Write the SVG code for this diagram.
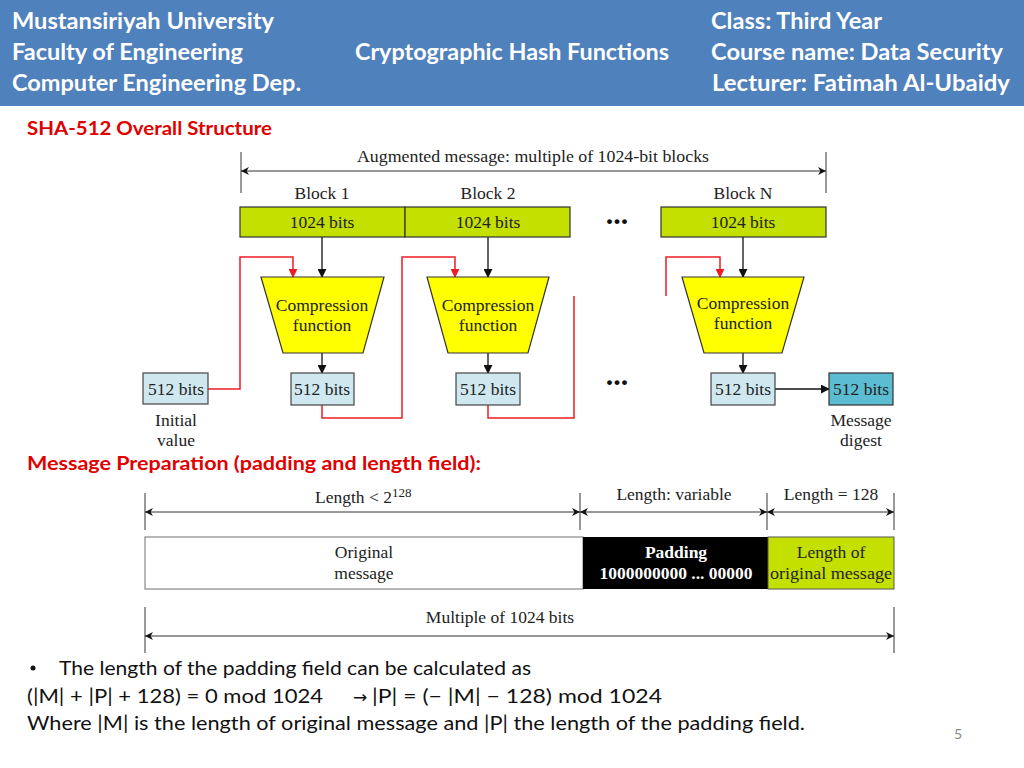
<svg xmlns="http://www.w3.org/2000/svg" width="1024" height="768" viewBox="0 0 1024 768">
<defs>
<style>
.hd{font-family:Lato,"Open Sans",sans-serif;font-weight:bold;font-size:22px;fill:#ffffff}
.rt{font-family:Lato,"Open Sans",sans-serif;font-weight:bold;font-size:19px;fill:#e00000}
.sf{font-family:"Liberation Serif",serif;font-size:17.5px;fill:#222}
.bt{font-family:Lato,"Open Sans",sans-serif;font-size:20px;fill:#111}
.blk{fill:#c4e000;stroke:#333;stroke-width:1.2}
.trap{fill:#ffff00;stroke:#333;stroke-width:1.2}
.bx{fill:#cfe8f0;stroke:#444;stroke-width:1.2}
.dg{fill:#5bbcd2;stroke:#333;stroke-width:1.2}
.k{stroke:#111;stroke-width:1.3;fill:none}
.r{stroke:#ee1c24;stroke-width:1.5;fill:none}
.d{stroke:#333;stroke-width:1;fill:none}
.dots{font-family:"Liberation Serif",serif;font-size:30px;font-weight:bold;fill:#111}
</style>
<marker id="ak" viewBox="0 0 10 10" refX="9" refY="5" markerWidth="9" markerHeight="9" markerUnits="userSpaceOnUse" orient="auto"><path d="M0,0 L10,5 L0,10 z" fill="#111"/></marker>
<marker id="ar" viewBox="0 0 10 10" refX="9" refY="5" markerWidth="9" markerHeight="9" markerUnits="userSpaceOnUse" orient="auto"><path d="M0,0 L10,5 L0,10 z" fill="#ee1c24"/></marker>
<marker id="ad" viewBox="0 0 10 10" refX="10" refY="5" markerWidth="9" markerHeight="8" markerUnits="userSpaceOnUse" orient="auto-start-reverse"><path d="M0,0 L10,5 L0,10 L3,5 z" fill="#111"/></marker>
</defs>
<rect width="1024" height="768" fill="#ffffff"/>
<g id="header">
<rect x="0" y="0" width="1024" height="106" fill="#4f81bd"/>
<text class="hd" x="12" y="29" textLength="262" lengthAdjust="spacingAndGlyphs">Mustansiriyah University</text>
<text class="hd" x="12" y="60" textLength="231" lengthAdjust="spacingAndGlyphs">Faculty of Engineering</text>
<text class="hd" x="12" y="91" textLength="289" lengthAdjust="spacingAndGlyphs">Computer Engineering Dep.</text>
<text class="hd" x="355" y="60" textLength="314" lengthAdjust="spacingAndGlyphs">Cryptographic Hash Functions</text>
<text class="hd" x="711" y="29" textLength="171" lengthAdjust="spacingAndGlyphs">Class: Third Year</text>
<text class="hd" x="711" y="60" textLength="292" lengthAdjust="spacingAndGlyphs">Course name: Data Security</text>
<text class="hd" x="712" y="91" textLength="298" lengthAdjust="spacingAndGlyphs">Lecturer: Fatimah Al-Ubaidy</text>
</g>
<text class="rt" x="27" y="135" textLength="245" lengthAdjust="spacingAndGlyphs">SHA-512 Overall Structure</text>

<g id="connectors">
<line class="d" x1="241" y1="152" x2="241" y2="193"/>
<line class="d" x1="826" y1="152" x2="826" y2="193"/>
<line class="d" x1="241" y1="171" x2="826" y2="171" marker-start="url(#ad)" marker-end="url(#ad)"/>
<line class="k" x1="322" y1="237" x2="322" y2="277" marker-end="url(#ak)"/>
<line class="k" x1="488" y1="237" x2="488" y2="277" marker-end="url(#ak)"/>
<line class="k" x1="743" y1="237" x2="743" y2="277" marker-end="url(#ak)"/>
<line class="k" x1="322" y1="353" x2="322" y2="373" marker-end="url(#ak)"/>
<line class="k" x1="488" y1="353" x2="488" y2="373" marker-end="url(#ak)"/>
<line class="k" x1="743" y1="353" x2="743" y2="373" marker-end="url(#ak)"/>
<line class="k" x1="775" y1="389" x2="829" y2="389" marker-end="url(#ak)"/>
<polyline class="r" points="208,389 240,389 240,257 293,257 293,277" marker-end="url(#ar)"/>
<polyline class="r" points="322,405 322,418 402,418 402,257 455,257 455,277" marker-end="url(#ar)"/>
<polyline class="r" points="488,405 488,418 574,418 574,296"/>
<polyline class="r" points="666,296 666,257 720,257 720,277" marker-end="url(#ar)"/>
<line class="d" x1="145" y1="493" x2="145" y2="530"/>
<line class="d" x1="580" y1="493" x2="580" y2="530"/>
<line class="d" x1="767" y1="493" x2="767" y2="530"/>
<line class="d" x1="894" y1="493" x2="894" y2="530"/>
<line class="d" x1="145" y1="512" x2="580" y2="512" marker-start="url(#ad)" marker-end="url(#ad)"/>
<line class="d" x1="580" y1="512" x2="767" y2="512" marker-start="url(#ad)" marker-end="url(#ad)"/>
<line class="d" x1="767" y1="512" x2="894" y2="512" marker-start="url(#ad)" marker-end="url(#ad)"/>
<line class="d" x1="145" y1="607" x2="145" y2="653"/>
<line class="d" x1="894" y1="607" x2="894" y2="653"/>
<line class="d" x1="145" y1="636" x2="894" y2="636" marker-start="url(#ad)" marker-end="url(#ad)"/>
</g>

<text class="sf" x="533" y="162" text-anchor="middle" textLength="352" lengthAdjust="spacingAndGlyphs">Augmented message: multiple of 1024-bit blocks</text>

<g id="block1">
<text class="sf" x="322" y="199" text-anchor="middle">Block 1</text>
<rect class="blk" x="240" y="207" width="165" height="30"/>
<text class="sf" x="322" y="228" text-anchor="middle">1024 bits</text>
</g>
<g id="block2">
<text class="sf" x="488" y="199" text-anchor="middle">Block 2</text>
<rect class="blk" x="405" y="207" width="165" height="30"/>
<text class="sf" x="488" y="228" text-anchor="middle">1024 bits</text>
</g>
<g id="blockN">
<text class="sf" x="743" y="199" text-anchor="middle">Block N</text>
<rect class="blk" x="661" y="207" width="165" height="30"/>
<text class="sf" x="743" y="228" text-anchor="middle">1024 bits</text>
</g>
<g id="dots">
<text class="dots" x="617" y="224" text-anchor="middle">...</text>
<text class="dots" x="617" y="385" text-anchor="middle">...</text>
</g>

<g id="comp1">
<polygon class="trap" points="261,277 384,277 363,353 283,353"/>
<text class="sf" x="322" y="311" text-anchor="middle">Compression</text>
<text class="sf" x="322" y="331" text-anchor="middle">function</text>
</g>
<g id="comp2">
<polygon class="trap" points="427,277 549,277 528,353 448,353"/>
<text class="sf" x="488" y="311" text-anchor="middle">Compression</text>
<text class="sf" x="488" y="331" text-anchor="middle">function</text>
</g>
<g id="compN">
<polygon class="trap" points="682,277 804,277 782,353 704,353"/>
<text class="sf" x="743" y="309" text-anchor="middle">Compression</text>
<text class="sf" x="743" y="329" text-anchor="middle">function</text>
</g>

<g id="iv">
<rect class="bx" x="143" y="373" width="65" height="31"/>
<text class="sf" x="176" y="395" text-anchor="middle">512 bits</text>
<text class="sf" x="176" y="426" text-anchor="middle">Initial</text>
<text class="sf" x="176" y="446" text-anchor="middle">value</text>
</g>
<g id="h1">
<rect class="bx" x="291" y="373" width="63" height="32"/>
<text class="sf" x="322" y="395" text-anchor="middle">512 bits</text>
</g>
<g id="h2">
<rect class="bx" x="456" y="373" width="64" height="32"/>
<text class="sf" x="488" y="395" text-anchor="middle">512 bits</text>
</g>
<g id="hN">
<rect class="bx" x="711" y="373" width="64" height="32"/>
<text class="sf" x="743" y="395" text-anchor="middle">512 bits</text>
</g>
<g id="digest">
<rect class="dg" x="829" y="373" width="64" height="32"/>
<text class="sf" x="861" y="395" text-anchor="middle">512 bits</text>
<text class="sf" x="861" y="426" text-anchor="middle">Message</text>
<text class="sf" x="861" y="446" text-anchor="middle">digest</text>
</g>

<text class="rt" x="27" y="470" textLength="454" lengthAdjust="spacingAndGlyphs">Message Preparation (padding and length field):</text>

<text class="sf" x="315" y="503">Length &lt; 2<tspan dy="-6" font-size="13">128</tspan></text>
<text class="sf" x="674" y="500" text-anchor="middle">Length: variable</text>
<text class="sf" x="831" y="500" text-anchor="middle">Length = 128</text>

<g id="original">
<rect x="145" y="537" width="438" height="52" fill="#ffffff" stroke="#888" stroke-width="1.2"/>
<text class="sf" x="364" y="558" text-anchor="middle">Original</text>
<text class="sf" x="364" y="579" text-anchor="middle">message</text>
</g>
<g id="padding">
<rect x="583" y="537" width="185" height="52" fill="#000000"/>
<text class="sf" x="676" y="558" text-anchor="middle" style="fill:#ffffff" font-weight="bold">Padding</text>
<text class="sf" x="676" y="579" text-anchor="middle" style="fill:#ffffff" font-weight="bold">1000000000 ... 00000</text>
</g>
<g id="lengthfield">
<rect x="768" y="537" width="126" height="52" fill="#c4e000" stroke="#555" stroke-width="1"/>
<text class="sf" x="831" y="558" text-anchor="middle">Length of</text>
<text class="sf" x="831" y="579" text-anchor="middle" textLength="122" lengthAdjust="spacingAndGlyphs">original message</text>
</g>

<text class="sf" x="500" y="623" text-anchor="middle">Multiple of 1024 bits</text>

<g id="notes">
<circle cx="33" cy="668" r="2.5" fill="#111"/>
<text class="bt" x="59" y="675" textLength="472" lengthAdjust="spacingAndGlyphs">The length of the padding field can be calculated as</text>
<text class="bt" x="27" y="703" textLength="296" lengthAdjust="spacingAndGlyphs">(|M| + |P| + 128) = 0 mod 1024</text>
<text x="353" y="703" font-family="'DejaVu Sans',sans-serif" font-size="17" fill="#111">→</text>
<text class="bt" x="372" y="703" textLength="290" lengthAdjust="spacingAndGlyphs">|P| = (− |M| − 128) mod 1024</text>
<text class="bt" x="27" y="730" textLength="778" lengthAdjust="spacingAndGlyphs">Where |M| is the length of original message and |P| the length of the padding field.</text>
<text x="958" y="739" text-anchor="middle" font-family="Lato,sans-serif" font-size="14" fill="#888">5</text>
</g>
</svg>
